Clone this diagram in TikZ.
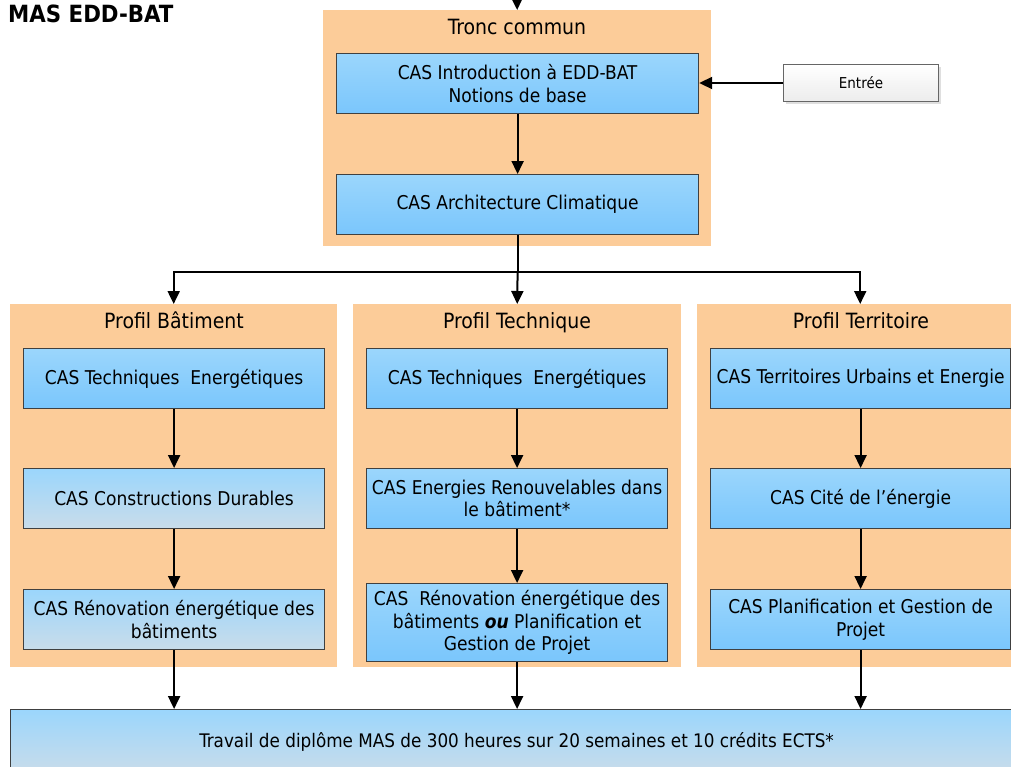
\documentclass[tikz,border=0pt]{standalone}
\usepackage{fontspec}
\setmainfont{DejaVu Sans Condensed}
\usetikzlibrary{arrows.meta,shadows}
\definecolor{peach}{RGB}{252,204,153}
\definecolor{btop}{RGB}{155,214,252}
\definecolor{bbot}{RGB}{122,198,252}
\definecolor{gbot}{RGB}{201,220,234}
\definecolor{bord}{RGB}{64,64,64}
\begin{document}
\begin{tikzpicture}[x=1pt,y=-1pt,
  cont/.style={fill=peach, draw=none, anchor=north west, inner sep=0pt},
  clabel/.style={font=\fontsize{21}{24}\selectfont, anchor=base, inner sep=0pt},
  box/.style={draw=bord, line width=1.2pt, top color=btop, bottom color=bbot, anchor=north west,
    minimum width=301pt, minimum height=60pt, align=center, inner sep=2pt, font=\fontsize{19}{22.5}\selectfont},
  gbox/.style={box, bottom color=gbot},
  arr/.style={line width=2pt, -{Triangle[length=13pt,width=12pt]}}]
\useasboundingbox (0,0) rectangle (1011,766);
\begin{scope}
\clip (0,0) rectangle (1011,766);
% title
\node[font=\bfseries\fontsize{23.7}{26}\selectfont, anchor=west, inner sep=0pt] (title) at (8,14) {MAS EDD-BAT};
% containers
\node[cont, minimum width=388pt, minimum height=236pt] (tc) at (323,10) {};
\node[clabel] (tcl) at (517,34) {Tronc commun};
\node[cont, minimum width=327pt, minimum height=363pt] (pb) at (10,304) {};
\node[clabel] (pbl) at (174,328) {Profil Bâtiment};
\node[cont, minimum width=328pt, minimum height=363pt] (pt) at (353,304) {};
\node[clabel] (ptl) at (517,328) {Profil Technique};
\node[cont, minimum width=326pt, minimum height=363pt] (pr) at (697,304) {};
\node[clabel] (prl) at (861,328) {Profil Territoire};
% tronc commun boxes
\node[box, minimum width=362pt] (b1) at (336,53) {CAS Introduction à EDD-BAT\\Notions de base};
\node[box, minimum width=362pt] (b2) at (336,174) {CAS Architecture Climatique};
% entree
\node[draw=gray!80!black, line width=1pt, top color=white, bottom color=gray!15, anchor=north west,
  minimum width=155pt, minimum height=37pt, font=\fontsize{15}{18}\selectfont,
  drop shadow={shadow xshift=2pt, shadow yshift=-2pt, fill=gray!50}] (entree) at (783,64) {Entrée};
% left column
\node[box] (l1) at (23,348) {CAS Techniques\ \ Energétiques};
\node[gbox] (l2) at (23,468) {CAS Constructions Durables};
\node[gbox] (l3) at (23,589) {CAS Rénovation énergétique des\\bâtiments};
% middle column
\node[box] (m1) at (366,348) {CAS Techniques\ \ Energétiques};
\node[box] (m2) at (366,468) {CAS Energies Renouvelables dans\\le bâtiment*};
\node[box, minimum height=78pt] (m3) at (366,583) {CAS\ \ Rénovation énergétique des\\bâtiments \textbf{\textit{ou}} Planification et\\Gestion de Projet};
% right column
\node[box, minimum width=300pt] (r1) at (710,348) {CAS Territoires Urbains et Energie};
\node[box, minimum width=300pt] (r2) at (710,468) {CAS Cité de l’énergie};
\node[box, minimum width=300pt] (r3) at (710,589) {CAS Planification et Gestion de\\Projet};
% final
\node[gbox, minimum width=1012pt, minimum height=64pt, font=\fontsize{18.7}{22}\selectfont] (fin) at (10,709) {Travail de diplôme MAS de 300 heures sur 20 semaines et 10 crédits ECTS*};
% connectors
\coordinate (topin) at (517,-4);
\draw[arr] (topin) -- (tc.north);
\draw[arr] (entree.west) -- (b1.east |- entree.west);
\draw[arr] (b1) -- (b2);
\coordinate (split) at (b2.south |- 0,272);
\draw[line width=2pt] (b2.south) -- (split);
\draw[arr] (split) -| (pb.north);
\draw[arr] (split) -| (pr.north);
\draw[arr] (split) -- (pt.north);
\draw[arr] (l1) -- (l2);
\draw[arr] (l2) -- (l3);
\draw[arr] (m1) -- (m2);
\draw[arr] (m2) -- (m2.south |- m3.north);
\draw[arr] (r1) -- (r2);
\draw[arr] (r2) -- (r3);
\draw[arr] (l3.south) -- (l3.south |- fin.north);
\draw[arr] (m3.south) -- (m3.south |- fin.north);
\draw[arr] (r3.south) -- (r3.south |- fin.north);
\end{scope}
\end{tikzpicture}
\end{document}
